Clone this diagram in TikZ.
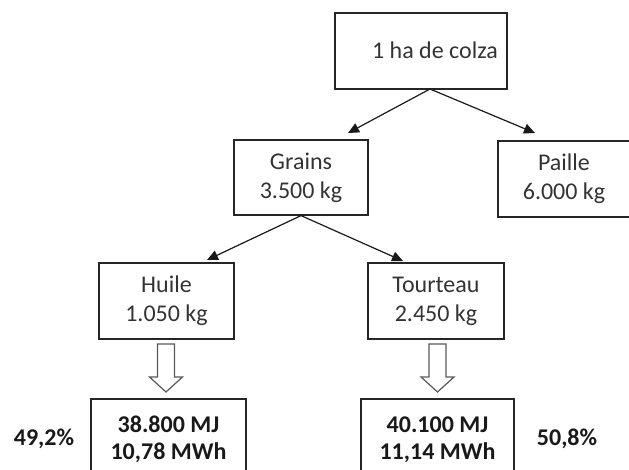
\documentclass[tikz,border=0pt]{standalone}
\usepackage{fontspec}
\setmainfont{Carlito}
\usetikzlibrary{arrows.meta}
\begin{document}
\begin{tikzpicture}[x=1pt,y=-1pt,
  boxstyle/.style={draw=black!85, line width=1.2pt, inner sep=0pt, align=center,
    font=\fontsize{24}{29}\selectfont, text=black!80},
  ebox/.style={draw=black!85, line width=1.2pt, inner sep=0pt, align=center,
    font=\fontsize{24}{27}\selectfont\bfseries, text=black!90},
  pct/.style={font=\fontsize{24}{27}\selectfont\bfseries, text=black!90, inner sep=0pt},
  lbl/.style={font=\fontsize{24}{29}\selectfont, text=black!80, inner sep=0pt},
  link/.style={draw=black!90, line width=1.2pt, -{Triangle[length=11pt,width=10pt]}},
  hollow/.style={draw=black!65, line width=1.2pt, fill=white}]
\useasboundingbox (0,0) rectangle (629,469);

% boxes
\node[boxstyle, minimum width=172pt, minimum height=76pt] (top) at (421,51) {};
\node[lbl] (toptxt) at (435,50) {1 ha de colza};
\node[boxstyle, minimum width=134pt, minimum height=75pt] (grains) at (301,177.5) {Grains\\3.500 kg};
\node[boxstyle, minimum width=132pt, minimum height=76pt] (paille) at (564,179) {Paille\\6.000 kg};
\node[boxstyle, minimum width=135pt, minimum height=76pt] (huile) at (166.5,301) {Huile\\1.050 kg};
\node[boxstyle, minimum width=136pt, minimum height=76pt] (tourteau) at (436,301) {Tourteau\\2.450 kg};
\node[ebox, minimum width=155pt, minimum height=81pt] (e1) at (168.5,439.5) {38.800 MJ\\10,78 MWh};
\node[ebox, minimum width=153pt, minimum height=81pt] (e2) at (437.5,439.5) {40.100 MJ\\11,14 MWh};
\node[pct] (p1) at (44,439) {49,2\%};
\node[pct] (p2) at (567,439) {50,8\%};

% arrow tips
\coordinate (a0) at (430,89);
\coordinate (t1) at (348,133);
\coordinate (t2) at (535,133);
\coordinate (t3) at (207,260);
\coordinate (t4) at (403,261);
\draw[link] (a0) -- (t1);
\draw[link] (a0) -- (t2);
\draw[link] (grains.south) -- (t3);
\draw[link] (grains.south) -- (t4);

% hollow arrows
\foreach \cx in {166,437.5}{
  \draw[hollow] (\cx-8.5,344) -- (\cx+8.5,344) -- (\cx+8.5,377) -- (\cx+16.5,377)
    -- (\cx,392) -- (\cx-16.5,377) -- (\cx-8.5,377) -- cycle;
}
\end{tikzpicture}
\end{document}
